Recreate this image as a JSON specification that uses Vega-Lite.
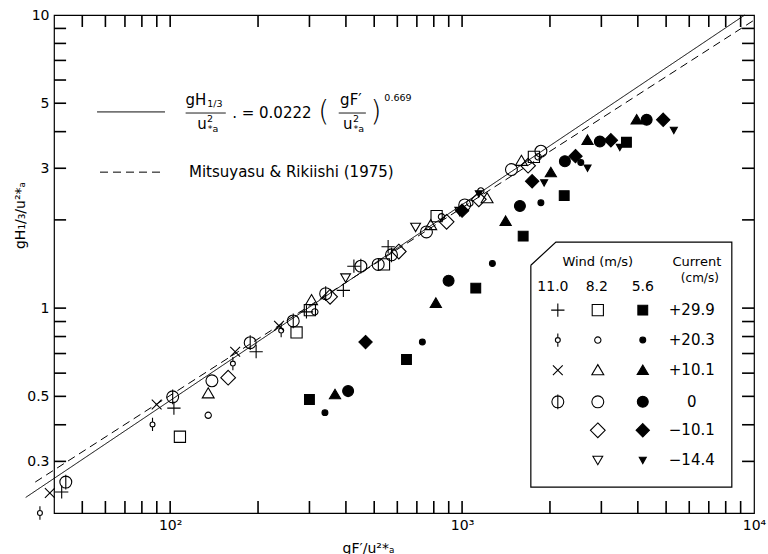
{
 "$schema": "https://vega.github.io/schema/vega-lite/v6.json",
 "width": 700, "height": 498, "autosize": "none",
 "padding": {"left": 54, "top": 15, "right": 14, "bottom": 41},
 "background": "white",
 "config": {
  "view": {"stroke": "black", "strokeWidth": 1.2},
  "font": "DejaVu Sans",
  "axis": {"grid": false, "labelColor": "black", "titleColor": "black", "labelFont": "DejaVu Sans", "titleFont": "DejaVu Sans", "labelFontSize": 14, "titleFontSize": 14, "titleFontWeight": "normal", "labelFlush": false, "labelOverlap": false}
 },
 "datasets": {
  "xticks": [{"v": 50},{"v": 60},{"v": 70},{"v": 80},{"v": 90},{"v": 100},{"v": 200},{"v": 300},{"v": 400},{"v": 500},{"v": 600},{"v": 700},{"v": 800},{"v": 900},{"v": 1000},{"v": 2000},{"v": 3000},{"v": 4000},{"v": 5000},{"v": 6000},{"v": 7000},{"v": 8000},{"v": 9000}],
  "yticks": [{"v": 0.3},{"v": 0.4},{"v": 0.5},{"v": 0.6},{"v": 0.7},{"v": 0.8},{"v": 0.9},{"v": 1},{"v": 2},{"v": 3},{"v": 4},{"v": 5},{"v": 6},{"v": 7},{"v": 8},{"v": 9}],
  "lines": [
   {"x": 32, "y": 0.226, "rel": "This study", "seg": "fit"},
   {"x": 9300, "y": 10, "rel": "This study", "seg": "fit"},
   {"x": 34.5, "y": 0.255, "rel": "Mitsuyasu & Rikiishi (1975)", "seg": "mr"},
   {"x": 10000, "y": 9.6, "rel": "Mitsuyasu & Rikiishi (1975)", "seg": "mr"},
   {"x": 56.2, "y": 4.67, "rel": "This study", "seg": "key1"},
   {"x": 96, "y": 4.67, "rel": "This study", "seg": "key1"},
   {"x": 57.5, "y": 2.91, "rel": "Mitsuyasu & Rikiishi (1975)", "seg": "key2"},
   {"x": 96, "y": 2.91, "rel": "Mitsuyasu & Rikiishi (1975)", "seg": "key2"},
   {"x": 113, "y": 4.63, "rel": "This study", "seg": "bar1"},
   {"x": 155, "y": 4.63, "rel": "This study", "seg": "bar1"},
   {"x": 378, "y": 4.63, "rel": "This study", "seg": "bar2"},
   {"x": 468, "y": 4.63, "rel": "This study", "seg": "bar2"}
  ],
  "main": [
   {"x": 42.5, "y": 0.236, "series": "11.0/+29.9"},
   {"x": 103, "y": 0.456, "series": "11.0/+29.9"},
   {"x": 197, "y": 0.71, "series": "11.0/+29.9"},
   {"x": 293, "y": 0.971, "series": "11.0/+29.9"},
   {"x": 392, "y": 1.15, "series": "11.0/+29.9"},
   {"x": 426, "y": 1.39, "series": "11.0/+29.9"},
   {"x": 558, "y": 1.62, "series": "11.0/+29.9"},
   {"x": 35.8, "y": 0.2, "series": "11.0/+20.3"},
   {"x": 87, "y": 0.401, "series": "11.0/+20.3"},
   {"x": 164, "y": 0.647, "series": "11.0/+20.3"},
   {"x": 240, "y": 0.838, "series": "11.0/+20.3"},
   {"x": 38.7, "y": 0.234, "series": "11.0/+10.1"},
   {"x": 89.9, "y": 0.469, "series": "11.0/+10.1"},
   {"x": 167, "y": 0.71, "series": "11.0/+10.1"},
   {"x": 236, "y": 0.87, "series": "11.0/+10.1"},
   {"x": 43.9, "y": 0.255, "series": "11.0/0"},
   {"x": 102, "y": 0.498, "series": "11.0/0"},
   {"x": 188, "y": 0.762, "series": "11.0/0"},
   {"x": 264, "y": 0.904, "series": "11.0/0"},
   {"x": 341, "y": 1.12, "series": "11.0/0"},
   {"x": 450, "y": 1.39, "series": "11.0/0"},
   {"x": 573, "y": 1.52, "series": "11.0/0"},
   {"x": 108, "y": 0.364, "series": "8.2/+29.9"},
   {"x": 271, "y": 0.826, "series": "8.2/+29.9"},
   {"x": 301, "y": 0.984, "series": "8.2/+29.9"},
   {"x": 540, "y": 1.41, "series": "8.2/+29.9"},
   {"x": 818, "y": 2.06, "series": "8.2/+29.9"},
   {"x": 1762, "y": 3.28, "series": "8.2/+29.9"},
   {"x": 135, "y": 0.431, "series": "8.2/+20.3"},
   {"x": 313, "y": 0.971, "series": "8.2/+20.3"},
   {"x": 850, "y": 2.05, "series": "8.2/+20.3"},
   {"x": 1063, "y": 2.28, "series": "8.2/+20.3"},
   {"x": 1159, "y": 2.51, "series": "8.2/+20.3"},
   {"x": 1822, "y": 3.28, "series": "8.2/+20.3"},
   {"x": 135, "y": 0.512, "series": "8.2/+10.1"},
   {"x": 305, "y": 1.065, "series": "8.2/+10.1"},
   {"x": 781, "y": 1.92, "series": "8.2/+10.1"},
   {"x": 1218, "y": 2.37, "series": "8.2/+10.1"},
   {"x": 1597, "y": 3.18, "series": "8.2/+10.1"},
   {"x": 139, "y": 0.565, "series": "8.2/0"},
   {"x": 516, "y": 1.41, "series": "8.2/0"},
   {"x": 755, "y": 1.82, "series": "8.2/0"},
   {"x": 1021, "y": 2.25, "series": "8.2/0"},
   {"x": 1476, "y": 2.97, "series": "8.2/0"},
   {"x": 1862, "y": 3.43, "series": "8.2/0"},
   {"x": 158, "y": 0.579, "series": "8.2/-10.1"},
   {"x": 353, "y": 1.093, "series": "8.2/-10.1"},
   {"x": 607, "y": 1.56, "series": "8.2/-10.1"},
   {"x": 885, "y": 1.97, "series": "8.2/-10.1"},
   {"x": 1141, "y": 2.35, "series": "8.2/-10.1"},
   {"x": 1683, "y": 3.06, "series": "8.2/-10.1"},
   {"x": 399, "y": 1.27, "series": "8.2/-14.4"},
   {"x": 693, "y": 1.89, "series": "8.2/-14.4"},
   {"x": 982, "y": 2.14, "series": "8.2/-14.4"},
   {"x": 300, "y": 0.488, "series": "5.6/+29.9"},
   {"x": 645, "y": 0.668, "series": "5.6/+29.9"},
   {"x": 1114, "y": 1.17, "series": "5.6/+29.9"},
   {"x": 1619, "y": 1.76, "series": "5.6/+29.9"},
   {"x": 2238, "y": 2.42, "series": "5.6/+29.9"},
   {"x": 3656, "y": 3.68, "series": "5.6/+29.9"},
   {"x": 339, "y": 0.44, "series": "5.6/+20.3"},
   {"x": 731, "y": 0.766, "series": "5.6/+20.3"},
   {"x": 1270, "y": 1.42, "series": "5.6/+20.3"},
   {"x": 1862, "y": 2.29, "series": "5.6/+20.3"},
   {"x": 2551, "y": 3.14, "series": "5.6/+20.3"},
   {"x": 367, "y": 0.507, "series": "5.6/+10.1"},
   {"x": 813, "y": 1.04, "series": "5.6/+10.1"},
   {"x": 1410, "y": 1.98, "series": "5.6/+10.1"},
   {"x": 2014, "y": 2.9, "series": "5.6/+10.1"},
   {"x": 2690, "y": 3.74, "series": "5.6/+10.1"},
   {"x": 3963, "y": 4.39, "series": "5.6/+10.1"},
   {"x": 407, "y": 0.521, "series": "5.6/0"},
   {"x": 899, "y": 1.24, "series": "5.6/0"},
   {"x": 1578, "y": 2.23, "series": "5.6/0"},
   {"x": 2250, "y": 3.17, "series": "5.6/0"},
   {"x": 2965, "y": 3.7, "series": "5.6/0"},
   {"x": 4288, "y": 4.39, "series": "5.6/0"},
   {"x": 467, "y": 0.766, "series": "5.6/-10.1"},
   {"x": 1000, "y": 2.15, "series": "5.6/-10.1"},
   {"x": 1738, "y": 2.71, "series": "5.6/-10.1"},
   {"x": 2446, "y": 3.3, "series": "5.6/-10.1"},
   {"x": 3234, "y": 3.74, "series": "5.6/-10.1"},
   {"x": 4886, "y": 4.39, "series": "5.6/-10.1"},
   {"x": 1141, "y": 2.46, "series": "5.6/-14.4"},
   {"x": 1910, "y": 2.68, "series": "5.6/-14.4"},
   {"x": 2690, "y": 3.01, "series": "5.6/-14.4"},
   {"x": 3470, "y": 3.54, "series": "5.6/-14.4"},
   {"x": 5313, "y": 4.05, "series": "5.6/-14.4"}
  ],
  "keys": [
   {"x": 2128, "y": 0.984, "series": "11.0/+29.9"},
   {"x": 2128, "y": 0.778, "series": "11.0/+20.3"},
   {"x": 2128, "y": 0.614, "series": "11.0/+10.1"},
   {"x": 2128, "y": 0.479, "series": "11.0/0"},
   {"x": 2917, "y": 0.984, "series": "8.2/+29.9"},
   {"x": 2917, "y": 0.778, "series": "8.2/+20.3"},
   {"x": 2917, "y": 0.614, "series": "8.2/+10.1"},
   {"x": 2917, "y": 0.479, "series": "8.2/0"},
   {"x": 2917, "y": 0.383, "series": "8.2/-10.1"},
   {"x": 2917, "y": 0.303, "series": "8.2/-14.4"},
   {"x": 4159, "y": 0.984, "series": "5.6/+29.9"},
   {"x": 4159, "y": 0.778, "series": "5.6/+20.3"},
   {"x": 4159, "y": 0.614, "series": "5.6/+10.1"},
   {"x": 4159, "y": 0.479, "series": "5.6/0"},
   {"x": 4159, "y": 0.383, "series": "5.6/-10.1"},
   {"x": 4159, "y": 0.303, "series": "5.6/-14.4"}
  ],
  "box": [
   {"x": 1720, "y": 1.4, "i": 1},
   {"x": 2096, "y": 1.68, "i": 2},
   {"x": 8395, "y": 1.68, "i": 3},
   {"x": 8395, "y": 0.245, "i": 4},
   {"x": 1720, "y": 0.245, "i": 5},
   {"x": 1720, "y": 1.4, "i": 6}
  ],
  "t15": [
   {"x": 122.6, "y": 5.13, "t": "gH"},
   {"x": 128.5, "y": 4.25, "t": "u"},
   {"x": 223, "y": 4.63, "t": ". = 0.0222"},
   {"x": 416, "y": 5.13, "t": "gF′"},
   {"x": 406, "y": 4.25, "t": "u"},
   {"x": 260, "y": 2.91, "t": "Mitsuyasu & Rikiishi (1975)"},
   {"x": 6120, "y": 0.984, "t": "+29.9"},
   {"x": 6120, "y": 0.778, "t": "+20.3"},
   {"x": 6120, "y": 0.614, "t": "+10.1"},
   {"x": 6120, "y": 0.479, "t": "0"},
   {"x": 6120, "y": 0.383, "t": "−10.1"},
   {"x": 6120, "y": 0.303, "t": "−14.4"}
  ],
  "t14": [
   {"x": 2047, "y": 1.18, "t": "11.0"},
   {"x": 2894, "y": 1.18, "t": "8.2"},
   {"x": 4159, "y": 1.18, "t": "5.6"}
  ],
  "t13": [
   {"x": 2917, "y": 1.436, "t": "Wind  (m/s)"},
   {"x": 6370, "y": 1.436, "t": "Current"}
  ],
  "t12": [
   {"x": 6523, "y": 1.266, "t": "(cm/s)"}
  ],
  "t10": [
   {"x": 142.3, "y": 4.97, "t": "1/3"},
   {"x": 136.8, "y": 4.42, "t": "2"},
   {"x": 140.1, "y": 4.08, "t": "*a"},
   {"x": 433, "y": 4.42, "t": "2"},
   {"x": 443, "y": 4.08, "t": "*a"},
   {"x": 603, "y": 5.21, "t": "0.669"}
  ],
  "t28": [
   {"x": 336, "y": 4.63, "t": "("},
   {"x": 507, "y": 4.63, "t": ")"}
  ]
 },
 "layer": [
  {
   "data": {"name": "xticks"},
   "mark": {"type": "rule", "color": "#000000", "strokeWidth": 1.6, "opacity": 1},
   "encoding": {
    "x": {"field": "v", "type": "quantitative", "scale": {"type": "log", "domain": [40, 10000], "nice": false}, "axis": null},
    "y": {"datum": 0.2, "type": "quantitative", "scale": {"type": "log", "domain": [0.2, 10], "nice": false}, "axis": null},
    "y2": {"datum": 0.2198}
   }
  },
  {
   "data": {"name": "xticks"},
   "mark": {"type": "rule", "color": "#000000", "strokeWidth": 1.6, "opacity": 1},
   "encoding": {
    "x": {"field": "v", "type": "quantitative", "axis": null},
    "y": {"datum": 10, "type": "quantitative", "axis": null},
    "y2": {"datum": 9.1}
   }
  },
  {
   "data": {"name": "yticks"},
   "mark": {"type": "rule", "color": "#000000", "strokeWidth": 1.6, "opacity": 1},
   "encoding": {
    "y": {"field": "v", "type": "quantitative", "axis": null},
    "x": {"datum": 40, "type": "quantitative", "axis": null},
    "x2": {"datum": 44}
   }
  },
  {
   "data": {"name": "yticks"},
   "mark": {"type": "rule", "color": "#000000", "strokeWidth": 1.6, "opacity": 1},
   "encoding": {
    "y": {"field": "v", "type": "quantitative", "axis": null},
    "x": {"datum": 10000, "type": "quantitative", "axis": null},
    "x2": {"datum": 9100}
   }
  },
  {
   "data": {"name": "lines"},
   "mark": {"type": "line", "color": "black", "strokeWidth": 1, "clip": false},
   "encoding": {
    "x": {"field": "x", "type": "quantitative", "axis": null},
    "y": {"field": "y", "type": "quantitative", "axis": null},
    "detail": {"field": "seg"},
    "strokeDash": {"field": "rel", "type": "nominal", "scale": {"domain": ["This study", "Mitsuyasu & Rikiishi (1975)"], "range": [[1, 0], [8, 5]]}, "legend": null}
   }
  },
  {
   "data": {"name": "main"},
   "mark": {"type": "point", "filled": false, "stroke": "black", "strokeWidth": 1.1, "opacity": 1, "size": 196, "clip": false},
   "encoding": {
    "x": {"field": "x", "type": "quantitative",
          "axis": {"orient": "bottom", "domain": false, "ticks": false, "labelPadding": 5,
                   "values": [100,1000,10000],
                   "labelExpr": "datum.value == 100 ? '10²' : datum.value == 1000 ? '10³' : datum.value == 10000 ? '10⁴' : ''",
                   "title": "gF′/u²*ₐ", "titleX": 314, "titleY": 35, "titleBaseline": "middle"}},
    "y": {"field": "y", "type": "quantitative",
          "axis": {"orient": "left", "domain": false, "ticks": false, "labelPadding": 5,
                   "values": [0.3,0.5,1,3,5,10],
                   "labelExpr": "datum.value == 0.3 ? '0.3' : datum.value == 0.5 ? '0.5' : datum.value == 1 ? '1' : datum.value == 3 ? '3' : datum.value == 5 ? '5' : datum.value == 10 ? '10' : ''",
                   "title": "gH₁/₃/u²*ₐ", "titleX": -34, "titleY": 200, "titleBaseline": "middle"}},
    "shape": {"field": "series", "type": "nominal", "legend": null, "scale": {
      "domain": ["11.0/+29.9","11.0/+20.3","11.0/+10.1","11.0/0","8.2/+29.9","8.2/+20.3","8.2/+10.1","8.2/0","8.2/-10.1","8.2/-14.4","5.6/+29.9","5.6/+20.3","5.6/+10.1","5.6/0","5.6/-10.1","5.6/-14.4"],
      "range": [
       "M-0.95,0L0.95,0M0,-0.95L0,0.95",
       "M0.35,0A0.35,0.35,0,1,1,-0.35,0A0.35,0.35,0,1,1,0.35,0ZM0,-0.95L0,-0.35M0,0.35L0,0.95",
       "M-0.7,-0.7L0.7,0.7M-0.7,0.7L0.7,-0.7",
       "M0.85,0A0.85,0.85,0,1,1,-0.85,0A0.85,0.85,0,1,1,0.85,0ZM0,-1.05L0,1.05",
       "M-0.8,-0.8L0.8,-0.8L0.8,0.8L-0.8,0.8Z",
       "M0.45,0A0.45,0.45,0,1,1,-0.45,0A0.45,0.45,0,1,1,0.45,0Z",
       "M0,-0.8L0.85,0.65L-0.85,0.65Z",
       "M0.85,0A0.85,0.85,0,1,1,-0.85,0A0.85,0.85,0,1,1,0.85,0Z",
       "M0,-1.05L1.05,0L0,1.05L-1.05,0Z",
       "M-0.7,-0.55L0.7,-0.55L0,0.65Z",
       "M-0.7,-0.7L0.7,-0.7L0.7,0.7L-0.7,0.7Z",
       "M0.42,0A0.42,0.42,0,1,1,-0.42,0A0.42,0.42,0,1,1,0.42,0Z",
       "M0,-0.75L0.8,0.6L-0.8,0.6Z",
       "M0.78,0A0.78,0.78,0,1,1,-0.78,0A0.78,0.78,0,1,1,0.78,0Z",
       "M0,-0.95L0.95,0L0,0.95L-0.95,0Z",
       "M-0.5,-0.4L0.5,-0.4L0,0.5Z"
      ]}},
    "fill": {"field": "series", "type": "nominal", "legend": null, "scale": {
      "domain": ["11.0/+29.9","11.0/+20.3","11.0/+10.1","11.0/0","8.2/+29.9","8.2/+20.3","8.2/+10.1","8.2/0","8.2/-10.1","8.2/-14.4","5.6/+29.9","5.6/+20.3","5.6/+10.1","5.6/0","5.6/-10.1","5.6/-14.4"],
      "range": ["transparent","transparent","transparent","transparent","transparent","transparent","transparent","transparent","transparent","transparent","black","black","black","black","black","black"]}}
   }
  },
  {
   "data": {"name": "box"},
   "mark": {"type": "line", "color": "black", "strokeWidth": 1.2, "clip": false},
   "encoding": {
    "x": {"field": "x", "type": "quantitative", "axis": null},
    "y": {"field": "y", "type": "quantitative", "axis": null},
    "order": {"field": "i", "type": "quantitative"}
   }
  },
  {
   "data": {"name": "keys"},
   "mark": {"type": "point", "filled": false, "stroke": "black", "strokeWidth": 1.1, "opacity": 1, "size": 196},
   "encoding": {
    "x": {"field": "x", "type": "quantitative", "axis": null},
    "y": {"field": "y", "type": "quantitative", "axis": null},
    "shape": {"field": "series", "type": "nominal", "legend": null},
    "fill": {"field": "series", "type": "nominal", "legend": null}
   }
  },
  {
   "data": {"name": "t15"},
   "mark": {"type": "text", "font": "DejaVu Sans", "fontSize": 15, "color": "black", "align": "center", "baseline": "middle", "clip": false},
   "encoding": {"x": {"field": "x", "type": "quantitative", "axis": null}, "y": {"field": "y", "type": "quantitative", "axis": null}, "text": {"field": "t"}}
  },
  {
   "data": {"name": "t14"},
   "mark": {"type": "text", "font": "DejaVu Sans", "fontSize": 14, "color": "black", "align": "center", "baseline": "middle"},
   "encoding": {"x": {"field": "x", "type": "quantitative", "axis": null}, "y": {"field": "y", "type": "quantitative", "axis": null}, "text": {"field": "t"}}
  },
  {
   "data": {"name": "t13"},
   "mark": {"type": "text", "font": "DejaVu Sans", "fontSize": 13, "color": "black", "align": "center", "baseline": "middle"},
   "encoding": {"x": {"field": "x", "type": "quantitative", "axis": null}, "y": {"field": "y", "type": "quantitative", "axis": null}, "text": {"field": "t"}}
  },
  {
   "data": {"name": "t12"},
   "mark": {"type": "text", "font": "DejaVu Sans", "fontSize": 12, "color": "black", "align": "center", "baseline": "middle"},
   "encoding": {"x": {"field": "x", "type": "quantitative", "axis": null}, "y": {"field": "y", "type": "quantitative", "axis": null}, "text": {"field": "t"}}
  },
  {
   "data": {"name": "t10"},
   "mark": {"type": "text", "font": "DejaVu Sans", "fontSize": 9.5, "color": "black", "align": "center", "baseline": "middle"},
   "encoding": {"x": {"field": "x", "type": "quantitative", "axis": null}, "y": {"field": "y", "type": "quantitative", "axis": null}, "text": {"field": "t"}}
  },
  {
   "data": {"name": "t28"},
   "mark": {"type": "text", "font": "DejaVu Sans", "fontSize": 28, "fontWeight": 200, "color": "black", "align": "center", "baseline": "middle"},
   "encoding": {"x": {"field": "x", "type": "quantitative", "axis": null}, "y": {"field": "y", "type": "quantitative", "axis": null}, "text": {"field": "t"}}
  }
 ],
 "resolve": {"axis": {"x": "independent", "y": "independent"}}
}
